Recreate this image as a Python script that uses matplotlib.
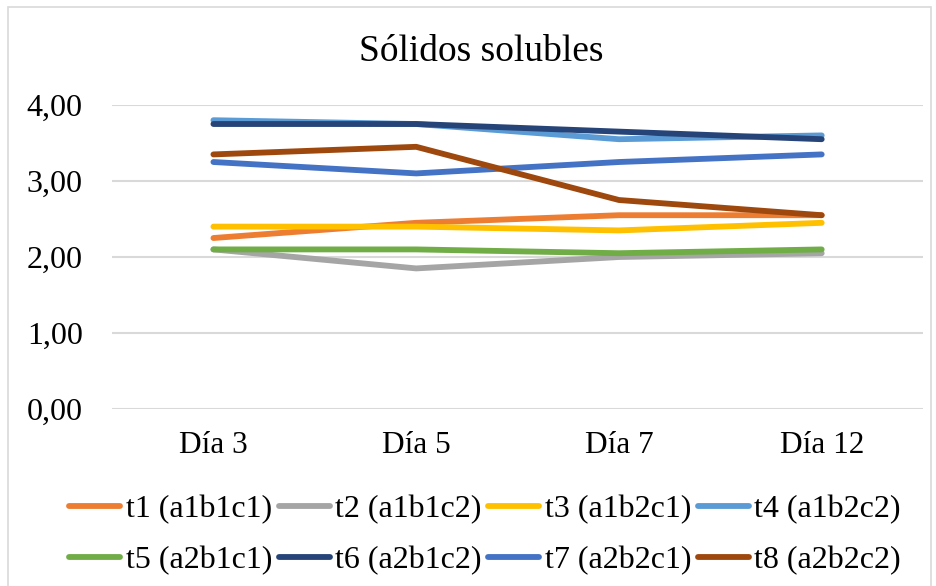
import matplotlib
matplotlib.use("Agg")
import matplotlib.pyplot as plt
from matplotlib.patches import Rectangle
from matplotlib.ticker import FuncFormatter

plt.rcParams["font.family"] = ["Liberation Serif", "DejaVu Serif"]

days = ["Día 3", "Día 5", "Día 7", "Día 12"]
series_names = ["t1 (a1b1c1)", "t2 (a1b1c2)", "t3 (a1b2c1)", "t4 (a1b2c2)",
                "t5 (a2b1c1)", "t6 (a2b1c2)", "t7 (a2b2c1)", "t8 (a2b2c2)"]
t1 = [2.25, 2.45, 2.55, 2.55]
t2 = [2.10, 1.85, 2.00, 2.05]
t3 = [2.40, 2.40, 2.35, 2.45]
t4 = [3.80, 3.75, 3.55, 3.60]
t5 = [2.10, 2.10, 2.05, 2.10]
t6 = [3.75, 3.75, 3.65, 3.55]
t7 = [3.25, 3.10, 3.25, 3.35]
t8 = [3.35, 3.45, 2.75, 2.55]
colors = ["#ED7D31", "#A5A5A5", "#FFC000", "#5B9BD5",
          "#70AD47", "#264478", "#4472C4", "#9E480E"]

values = [t1, t2, t3, t4, t5, t6, t7, t8]

fig = plt.figure(figsize=(9.36, 5.86), dpi=100)
ax = fig.add_axes([0.1197, 0.302, 0.8665, 0.5188])

# chart frame (cut off at the bottom like the source)
fig.patches.append(Rectangle((8 / 936, -0.05), 923 / 936, 1 - 7 / 586 + 0.05,
                             transform=fig.transFigure, fill=False,
                             edgecolor="#D9D9D9", linewidth=1.2))

x = list(range(len(days)))
lines = []
for name, vals, c in zip(series_names, values, colors):
    ln, = ax.plot(x, vals, color=c, linewidth=4.2, solid_capstyle="round",
                  solid_joinstyle="round", label=name)
    lines.append(ln)

ax.set_xlim(-0.5, len(days) - 0.5)
ax.set_ylim(0, 4)
ax.set_yticks([0, 1, 2, 3, 4])
ax.yaxis.set_major_formatter(FuncFormatter(lambda v, p: f"{v:.2f}".replace(".", ",")))
ax.set_xticks(x)
ax.set_xticklabels(days)
ax.tick_params(axis="both", length=0)
ax.tick_params(axis="y", labelsize=23, pad=21)
ax.tick_params(axis="x", labelsize=22.5, pad=16)
ax.grid(axis="y", color="#D9D9D9", linewidth=1.5)
ax.set_axisbelow(True)
for s in ax.spines.values():
    s.set_visible(False)

fig.text(0.5145, 1 - 61 / 586, "Sólidos solubles", ha="center", va="baseline",
         fontsize=27)

# legend filled row by row (4 columns, 2 rows)
order = [0, 4, 1, 5, 2, 6, 3, 7]
fig.legend([lines[i] for i in order], [series_names[i] for i in order],
           loc="center", bbox_to_anchor=(485 / 936, 1 - 535 / 586), ncol=4,
           frameon=False, fontsize=23, handlelength=1.6, handletextpad=0.17,
           columnspacing=0.2, labelspacing=0.7, borderpad=0, borderaxespad=0)

fig.savefig("out.png", dpi=100)
